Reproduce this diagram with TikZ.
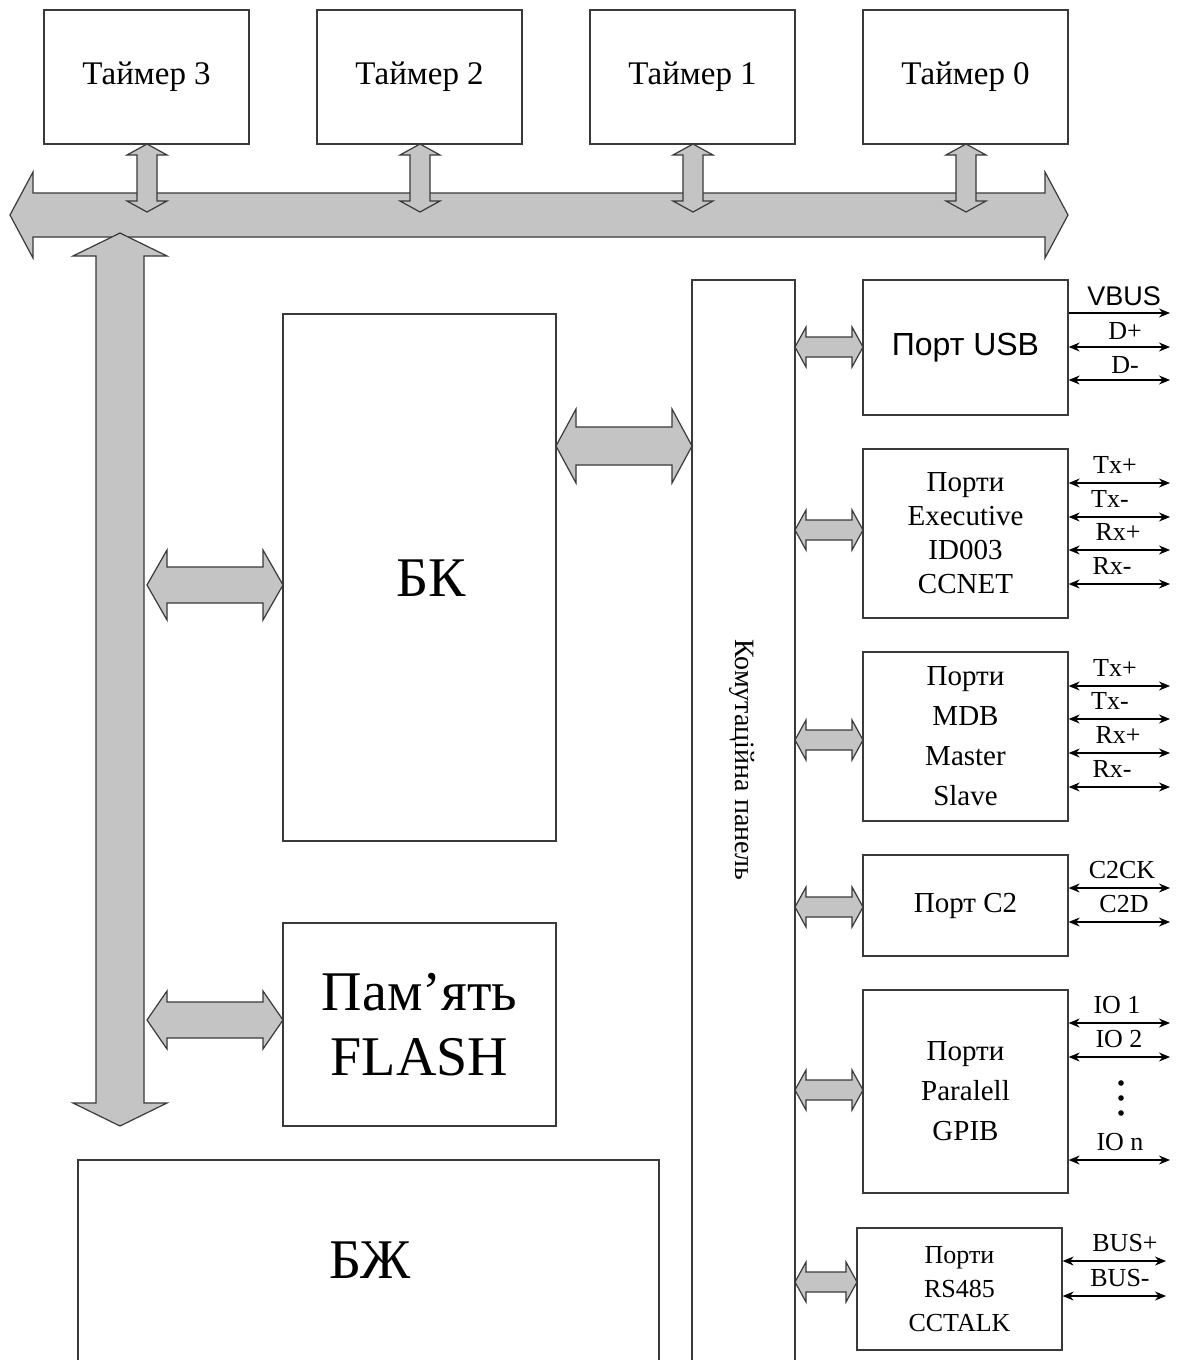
\documentclass[tikz,border=0pt]{standalone}
\usepackage{fontspec}
\setmainfont{Liberation Serif}
\newfontfamily\arialf{Liberation Sans}
\usetikzlibrary{arrows.meta,calc}
\definecolor{arrfill}{HTML}{C4C4C4}
\definecolor{edge}{HTML}{3A3A3A}
\newcommand{\HArr}[6]{%
\draw[blockarrow] (#1,#3) -- ({#1+#6},{#3-#5}) -- ({#1+#6},{#3-#4}) -- ({#2-#6},{#3-#4}) -- ({#2-#6},{#3-#5}) -- (#2,#3) -- ({#2-#6},{#3+#5}) -- ({#2-#6},{#3+#4}) -- ({#1+#6},{#3+#4}) -- ({#1+#6},{#3+#5}) -- cycle;}
\newcommand{\VArr}[6]{%
\draw[blockarrow] (#3,#1) -- ({#3-#5},{#1+#6}) -- ({#3-#4},{#1+#6}) -- ({#3-#4},{#2-#6}) -- ({#3-#5},{#2-#6}) -- (#3,#2) -- ({#3+#5},{#2-#6}) -- ({#3+#4},{#2-#6}) -- ({#3+#4},{#1+#6}) -- ({#3+#5},{#1+#6}) -- cycle;}
\tikzset{
  box/.style={draw=edge, line width=1.3pt, fill=white, inner sep=0pt, align=center},
  blockarrow/.style={draw=edge, line width=1.2pt, fill=arrfill, line join=miter},
  sig/.style={line width=1.1pt, {Stealth[length=11pt,width=9pt]}-{Stealth[length=11pt,width=9pt]}},
  sigr/.style={line width=1.1pt, -{Stealth[length=11pt,width=9pt]}},
  lab/.style={anchor=base, inner sep=0pt, font=\fontsize{26}{28}\selectfont},
  tim/.style={box, minimum width=205, minimum height=134, font=\fontsize{33}{36}\selectfont},
  port/.style={box, minimum width=205, font=\fontsize{29}{34}\selectfont},
}
\begin{document}
\begin{tikzpicture}[x=1pt,y=-1pt]
\clip (0,0) rectangle (1178,1360);
\fill[white] (0,0) rectangle (1178,1360);
% timers
\node[tim] (t3) at (146.5,77) {Таймер 3};
\node[tim] (t2) at (419.5,77) {Таймер 2};
\node[tim] (t1) at (692.5,77) {Таймер 1};
\node[tim] (t0) at (965.5,77) {Таймер 0};
% main bus
\HArr{10}{1068}{215}{22}{43}{23}
% timer links
\VArr{144}{212}{147}{10}{20}{11}
\VArr{144}{212}{420}{10}{20}{11}
\VArr{144}{212}{693}{10}{20}{11}
\VArr{144}{212}{966}{10}{20}{11}
% vertical bus
\VArr{233}{1126}{120}{24}{47}{23}
% BK
\node[box, minimum width=273, minimum height=527] (bk) at (419.5,577.5) {};
\node[font=\fontsize{56}{60}\selectfont] (bkl) at (431,578) {БК};
% FLASH
\node[box, minimum width=273, minimum height=203, font=\fontsize{56}{65}\selectfont] (flash) at (419.5,1024.5) {Пам’ять\\FLASH};
% BZh
\node[box, minimum width=581, minimum height=220] (bzh) at (368.5,1270) {};
\node[font=\fontsize{56}{60}\selectfont] (bzhl) at (370,1260) {БЖ};
% panel
\node[box, minimum width=103, minimum height=1100] (panel) at (743.5,830) {};
\node[rotate=-90, font=\fontsize{28}{30}\selectfont] (panell) at (742,760) {Комутаційна панель};
% bus to BK / flash
\HArr{147}{283}{585}{18}{35}{20}
\HArr{147}{283}{1020}{18}{29}{20}
\HArr{556}{692}{446}{19}{37}{20}
% ports
\node[box, minimum width=205, minimum height=135, font=\arialf\fontsize{32}{34}\selectfont] (usb) at (965.5,347.5) {Порт USB};
\node[port, minimum height=169] (exe) at (965.5,533.5) {Порти\\Executive\\ID003\\CCNET};
\node[port, minimum height=169, font=\fontsize{29}{40}\selectfont] (mdb) at (965.5,736.5) {Порти\\MDB\\Master\\Slave};
\node[port, minimum height=101] (c2) at (965.5,905.5) {Порт С2};
\node[port, minimum height=203, font=\fontsize{29}{40}\selectfont] (par) at (965.5,1091.5) {Порти\\Paralell\\GPIB};
\node[port, minimum height=122, font=\fontsize{26}{34}\selectfont] (rs) at (959.5,1289) {Порти\\RS485\\CCTALK};
% panel to ports
\HArr{795}{863}{347}{10}{20}{11}
\HArr{795}{863}{530}{10}{20}{11}
\HArr{795}{863}{740}{10}{20}{11}
\HArr{795}{863}{907}{10}{20}{11}
\HArr{795}{863}{1090}{10}{20}{11}
\HArr{795}{857}{1282}{10}{20}{11}
% signal lines USB
\coordinate (uv) at (1170,313);
\coordinate (ud1) at (1170,347);
\coordinate (ud2) at (1170,380);
\draw[sigr] (usb.east |- uv) -- (uv);
\draw[sig] (usb.east |- ud1) -- (ud1);
\draw[sig] (usb.east |- ud2) -- (ud2);
\node[lab, font=\arialf\fontsize{27}{28}\selectfont] (luv) at (1124,305) {VBUS};
\node[lab] (lud1) at (1125,339) {D+};
\node[lab] (lud2) at (1125,373) {D-};
% Executive
\foreach \y/\t/\n/\xx in {483/Tx+/a/1115, 517/Tx-/b/1110, 550/Rx+/c/1118, 584/Rx-/d/1112}{
  \coordinate (e\n) at (1170,\y);
  \draw[sig] (exe.east |- e\n) -- (e\n);
  \node[lab] (le\n) at (\xx,\y-10) {\t};
}
% MDB
\foreach \y/\t/\n/\xx in {686/Tx+/a/1115, 719/Tx-/b/1110, 753/Rx+/c/1118, 787/Rx-/d/1112}{
  \coordinate (m\n) at (1170,\y);
  \draw[sig] (mdb.east |- m\n) -- (m\n);
  \node[lab] (lm\n) at (\xx,\y-10) {\t};
}
% C2
\foreach \y/\t/\n/\xx in {888/C2CK/a/1122, 922/C2D/b/1124}{
  \coordinate (c\n) at (1170,\y);
  \draw[sig] (c2.east |- c\n) -- (c\n);
  \node[lab] (lc\n) at (\xx,\y-10) {\t};
}
% Paralell
\foreach \y/\t/\n/\xx in {1023/IO 1/a/1117, 1057/IO 2/b/1119, 1160/IO n/c/1120}{
  \coordinate (p\n) at (1170,\y);
  \draw[sig] (par.east |- p\n) -- (p\n);
  \node[lab] (lp\n) at (\xx,\y-10) {\t};
}
\fill (1121,1083) circle (2.8) (1121,1098) circle (2.8) (1121,1113) circle (2.8);
% RS485
\foreach \y/\t/\n/\xx in {1261/BUS+/a/1125, 1296/BUS-/b/1120}{
  \coordinate (r\n) at (1166,\y);
  \draw[sig] (rs.east |- r\n) -- (r\n);
  \node[lab] (lr\n) at (\xx,\y-10) {\t};
}
\end{tikzpicture}
\end{document}
